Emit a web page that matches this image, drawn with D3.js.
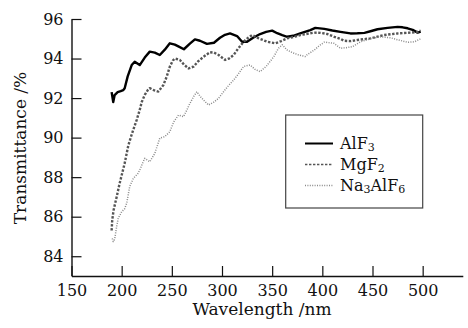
<!DOCTYPE html>
<html>
<head>
<meta charset="utf-8">
<script src="https://cdn.jsdelivr.net/npm/d3@7"></script>
<style>
  html, body { margin: 0; padding: 0; background: #fff; }
  svg { display: block; font-family: 'DejaVu Serif', serif; }
</style>
</head>
<body>
<svg id="chart" width="468" height="328"></svg>
<script>
// Wavelength (nm) / transmittance (%)
const alf3Wl = [190, 191.6, 193, 196, 199, 201.6, 203, 206, 210, 213, 218, 223, 228, 233, 238, 243, 248, 253, 257, 262, 268, 273, 278, 285, 292, 298, 303, 308, 315, 320, 325, 331, 338, 344, 350, 355, 360, 365, 371, 378, 388, 393, 402, 410, 418, 428, 435, 442, 448, 455, 465, 475, 480, 485, 490, 495, 498];
const alf3T  = [92.3, 91.8, 92.15, 92.3, 92.35, 92.4, 92.5, 93.1, 93.67, 93.84, 93.67, 94.05, 94.35, 94.3, 94.18, 94.45, 94.77, 94.7, 94.6, 94.47, 94.75, 94.97, 94.9, 94.74, 94.8, 95.05, 95.2, 95.27, 95.14, 94.85, 94.85, 95.05, 95.24, 95.35, 95.41, 95.28, 95.18, 95.1, 95.15, 95.27, 95.44, 95.55, 95.5, 95.42, 95.35, 95.27, 95.28, 95.3, 95.38, 95.48, 95.55, 95.6, 95.58, 95.53, 95.45, 95.31, 95.36];

const mgf2Wl = [190, 190.6, 192, 195, 198, 203, 206.6, 209, 211.6, 215, 218, 220, 223, 226, 228, 232, 236.6, 241.6, 245, 248, 251, 253, 258, 262, 266.6, 271.6, 276, 281.6, 288, 292, 296.6, 303, 307, 311.6, 316, 321.6, 326, 330, 336.6, 345, 353, 359, 365, 372, 378, 391.6, 398, 405, 412, 418, 421.6, 428, 435, 448, 461.6, 475, 488, 495, 498];
const mgf2T  = [85.3, 85.83, 86.34, 87.0, 87.69, 88.7, 89.6, 90.0, 90.4, 90.9, 91.4, 91.8, 92.16, 92.4, 92.5, 92.4, 92.33, 92.66, 93.1, 93.59, 93.9, 94.0, 93.93, 93.7, 93.5, 93.59, 93.85, 94.09, 94.32, 94.3, 94.18, 93.93, 94.0, 94.18, 94.5, 94.85, 95.05, 95.19, 95.02, 94.85, 94.77, 94.88, 95.02, 95.1, 95.19, 95.31, 95.3, 95.24, 95.1, 95.0, 94.9, 94.88, 94.94, 95.02, 95.19, 95.27, 95.31, 95.35, 95.41];

const na3Wl = [190.6, 191.6, 193, 195, 196.6, 200, 203, 205, 208, 211.6, 216.6, 220, 223, 228, 233, 238, 243, 248, 252, 256.6, 261.6, 265, 268, 272, 275, 278, 281.6, 286.6, 292, 296.6, 302, 306, 311.6, 316, 321.6, 328, 333, 338, 344, 351.6, 356, 360, 365, 370, 376.6, 383, 385, 392, 397, 402, 407, 411.6, 418, 424, 430, 438, 448, 458, 468, 475, 485, 492, 498];
const na3T  = [84.9, 84.74, 84.85, 85.5, 85.92, 86.25, 86.4, 86.68, 87.52, 87.94, 88.2, 88.6, 88.95, 88.78, 89.2, 89.97, 90.05, 90.3, 90.8, 91.14, 91.06, 91.4, 91.73, 92.1, 92.32, 92.1, 91.9, 91.65, 91.8, 91.99, 92.35, 92.6, 92.91, 93.2, 93.6, 93.67, 93.45, 93.34, 93.6, 94.09, 94.5, 94.7, 94.43, 94.3, 94.18, 94.1, 94.2, 94.43, 94.65, 94.83, 94.8, 94.77, 94.52, 94.55, 94.6, 94.85, 95.0, 95.1, 95.05, 94.95, 94.82, 94.85, 95.0];

const xTicks = [150, 200, 250, 300, 350, 400, 450, 500];
const yTicks = [84, 86, 88, 90, 92, 94, 96];

// label parts: [text, isSubscript]
const series = [
  { parts: [['AlF', false], ['3', true]], wl: alf3Wl, t: alf3T, color: '#000', width: 2.4, dash: null },
  { parts: [['MgF', false], ['2', true]], wl: mgf2Wl, t: mgf2T, color: '#555', width: 2.4, dash: '2.4,1.6' },
  { parts: [['Na', false], ['3', true], ['AlF', false], ['6', true]], wl: na3Wl, t: na3T, color: '#8a8a8a', width: 1.5, dash: '1,1.4' },
];

const svg = d3.select('#chart');

const x = d3.scaleLinear().domain([150, 540]).range([71.5, 462.8]);
const y = d3.scaleLinear().domain([83, 96]).range([276, 19]);

// axes, ticks pointing inward
const xAxis = svg.append('g')
  .attr('transform', `translate(0,${y(83)})`)
  .call(d3.axisBottom(x).tickValues(xTicks).tickSizeInner(-10).tickSizeOuter(0).tickPadding(9));

const yAxis = svg.append('g')
  .attr('transform', `translate(${x(150)},0)`)
  .call(d3.axisLeft(y).tickValues(yTicks).tickSizeInner(-10).tickSizeOuter(0).tickPadding(8));

[xAxis, yAxis].forEach((ax) => {
  ax.select('.domain').attr('stroke', '#111').attr('stroke-width', 1.4);
  ax.selectAll('.tick line').attr('stroke', '#111').attr('stroke-width', 1.2);
  ax.selectAll('.tick text')
    .attr('font-family', 'DejaVu Serif, serif')
    .attr('font-size', '16px')
    .attr('fill', '#111');
});

// curves
const line = d3.line()
  .x((d) => x(d[0]))
  .y((d) => y(d[1]));

series.forEach((s) => {
  svg.append('path')
    .datum(s.wl.map((w, i) => [w, s.t[i]]))
    .attr('fill', 'none')
    .attr('stroke', s.color)
    .attr('stroke-width', s.width)
    .attr('stroke-dasharray', s.dash)
    .attr('stroke-linejoin', 'round')
    .attr('d', line);
});

// axis titles
svg.append('text')
  .attr('x', 262)
  .attr('y', 315)
  .attr('text-anchor', 'middle')
  .attr('font-size', '17px')
  .attr('fill', '#111')
  .text('Wavelength /nm');

svg.append('text')
  .attr('transform', 'translate(26,148) rotate(-90)')
  .attr('text-anchor', 'middle')
  .attr('font-size', '17px')
  .attr('fill', '#111')
  .text('Transmittance /%');

// legend
const legend = svg.append('g');
legend.append('rect')
  .attr('x', 285.7).attr('y', 115)
  .attr('width', 137).attr('height', 93)
  .attr('fill', '#fff')
  .attr('stroke', '#444')
  .attr('stroke-width', 1.2);

series.forEach((s, i) => {
  const ly = 143.5 + i * 21;
  legend.append('line')
    .attr('x1', 305).attr('x2', 333)
    .attr('y1', ly).attr('y2', ly)
    .attr('stroke', s.color)
    .attr('stroke-width', i === 0 ? 2 : 1.5)
    .attr('stroke-dasharray', s.dash);

  // each piece as its own text so subscripts sit beside the main glyphs
  let cx = 340;
  s.parts.forEach(([str, isSub]) => {
    const el = legend.append('text')
      .attr('x', cx)
      .attr('y', isSub ? ly + 7.5 : ly + 5)
      .attr('font-size', isSub ? '11px' : '16px')
      .attr('fill', '#111')
      .text(str);
    cx += el.node().getComputedTextLength();
  });
});
</script>
</body>
</html>
